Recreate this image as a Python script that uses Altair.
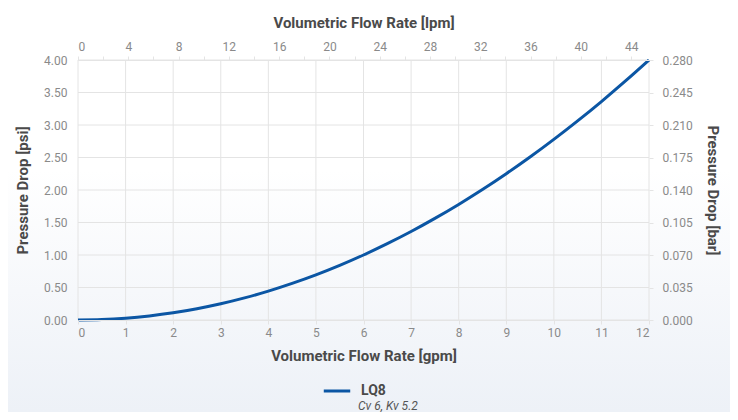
import altair as alt
import pandas as pd

# Values
gpm = [0, 0.5, 1, 1.5, 2, 2.5, 3, 3.5, 4, 4.5, 5, 5.5, 6, 6.5, 7, 7.5, 8, 8.5, 9, 9.5, 10, 10.5, 11, 11.5, 12]
psi = [0.0, 0.007, 0.028, 0.063, 0.111, 0.174, 0.25, 0.34, 0.444, 0.563, 0.694, 0.84, 1.0, 1.174, 1.361, 1.563,
       1.778, 2.007, 2.25, 2.507, 2.778, 3.063, 3.361, 3.674, 4.0]
series = "LQ8"
series_note = "Cv 6, Kv 5.2"
lpm_domain = [0, 45.42]
bar_domain = [0, 0.28]
gpm_ticks = [i * 0.5 for i in range(25)]
gpm_grid = list(range(0, 13))
lpm_ticks = list(range(0, 46, 2))
psi_ticks = [i * 0.5 for i in range(9)]
bar_ticks = [round(i * 0.035, 3) for i in range(9)]

BLUE = "#0b56a4"
TITLE_FONT = "Roboto"
LABEL_FONT = "Roboto"
LABEL_COLOR = "#8a8a8a"
TITLE_COLOR = "#4a4a4a"
GRID = "#e4e4e4"

W, H = 571, 260

df = pd.DataFrame({"gpm": gpm, "psi": psi, "series": [series] * len(gpm)})
vgrid = pd.DataFrame({"gpm": gpm_grid})
hgrid = pd.DataFrame({"psi": psi_ticks})
sec = pd.DataFrame({"lpm": lpm_domain, "bar": bar_domain})
bg = pd.DataFrame({"a": [0]})

# translucent page tint (white at the top, pale blue-grey at the bottom)
background = alt.Chart(bg).mark_rect(
    clip=False,
    fill=alt.Gradient(
        gradient="linear",
        stops=[alt.GradientStop(color="rgba(219,227,239,0)", offset=0.4),
               alt.GradientStop(color="rgba(219,227,239,0.5)", offset=1)],
        x1=0, x2=0, y1=0, y2=1,
    ),
).encode(
    x=alt.value(-70), x2=alt.value(W + 81), y=alt.value(-52), y2=alt.value(H + 92)
)

x_gpm = alt.X("gpm:Q", scale=alt.Scale(domain=[0, 12], nice=False),
              axis=alt.Axis(orient="bottom", values=gpm_ticks, format="d",
                            labelExpr="datum.value % 1 === 0 ? datum.label : ''",
                            title="Volumetric Flow Rate [gpm]", grid=False,
                            tickSize=4, labelPadding=3, titlePadding=10, zindex=1))
y_psi = alt.Y("psi:Q", scale=alt.Scale(domain=[0, 4], nice=False),
              axis=alt.Axis(orient="left", values=psi_ticks, format=".2f", ticks=False,
                            domain=False, grid=False, title="Pressure Drop [psi]", labelPadding=11,
                            titlePadding=13, zindex=1))

vrules = alt.Chart(vgrid).mark_rule(color=GRID, strokeWidth=1).encode(x=x_gpm)
hrules = alt.Chart(hgrid).mark_rule(color=GRID, strokeWidth=1).encode(y=y_psi)

line = alt.Chart(df).mark_line(strokeWidth=3, interpolate="monotone").encode(
    x=x_gpm,
    y=y_psi,
    color=alt.Color("series:N", scale=alt.Scale(range=[BLUE]),
                    legend=alt.Legend(orient="none", legendX=244, legendY=316, title=None,
                                      symbolType="stroke", symbolSize=700, symbolStrokeWidth=3,
                                      labelFont=TITLE_FONT, labelFontSize=14, labelFontWeight="bold",
                                      labelColor=TITLE_COLOR, padding=0, labelOffset=9)),
)

main = alt.layer(vrules, hrules, line)

note = alt.Chart(pd.DataFrame({"t": [series_note]})).mark_text(
    align="left", baseline="alphabetic", font=TITLE_FONT, fontStyle="italic", fontSize=12,
    color="#555555", clip=False
).encode(text="t:N", x=alt.value(280), y=alt.value(350))

secondary = alt.Chart(sec).mark_point(opacity=0).encode(
    x=alt.X("lpm:Q", scale=alt.Scale(domain=lpm_domain, nice=False),
            axis=alt.Axis(orient="top", values=lpm_ticks, grid=False,
                          labelExpr="datum.value % 4 === 0 ? datum.label : ''",
                          title="Volumetric Flow Rate [lpm]", tickSize=4, labelPadding=3,
                          titlePadding=10, zindex=1)),
    y=alt.Y("bar:Q", scale=alt.Scale(domain=bar_domain, nice=False),
            axis=alt.Axis(orient="right", values=bar_ticks, format=".3f", grid=False,
                          domain=False, tickSize=4, labelPadding=9, title="Pressure Drop [bar]",
                          titlePadding=12, zindex=1)),
)

chart = alt.layer(background, main, secondary, note).resolve_scale(
    x="independent", y="independent"
).properties(
    width=W, height=H,
    autosize=alt.AutoSizeParams(type="none"),
    padding={"left": 70, "top": 52, "right": 81, "bottom": 92},
).configure_view(stroke=None).configure_axis(
    labelFont=LABEL_FONT, labelFontSize=12, labelColor=LABEL_COLOR,
    titleFont=TITLE_FONT, titleFontSize=15, titleFontWeight="bold", titleColor=TITLE_COLOR,
    gridColor=GRID, domainColor=GRID, tickColor=GRID,
)

chart.save("out.html", embed_options={"renderer": "svg", "actions": False})
